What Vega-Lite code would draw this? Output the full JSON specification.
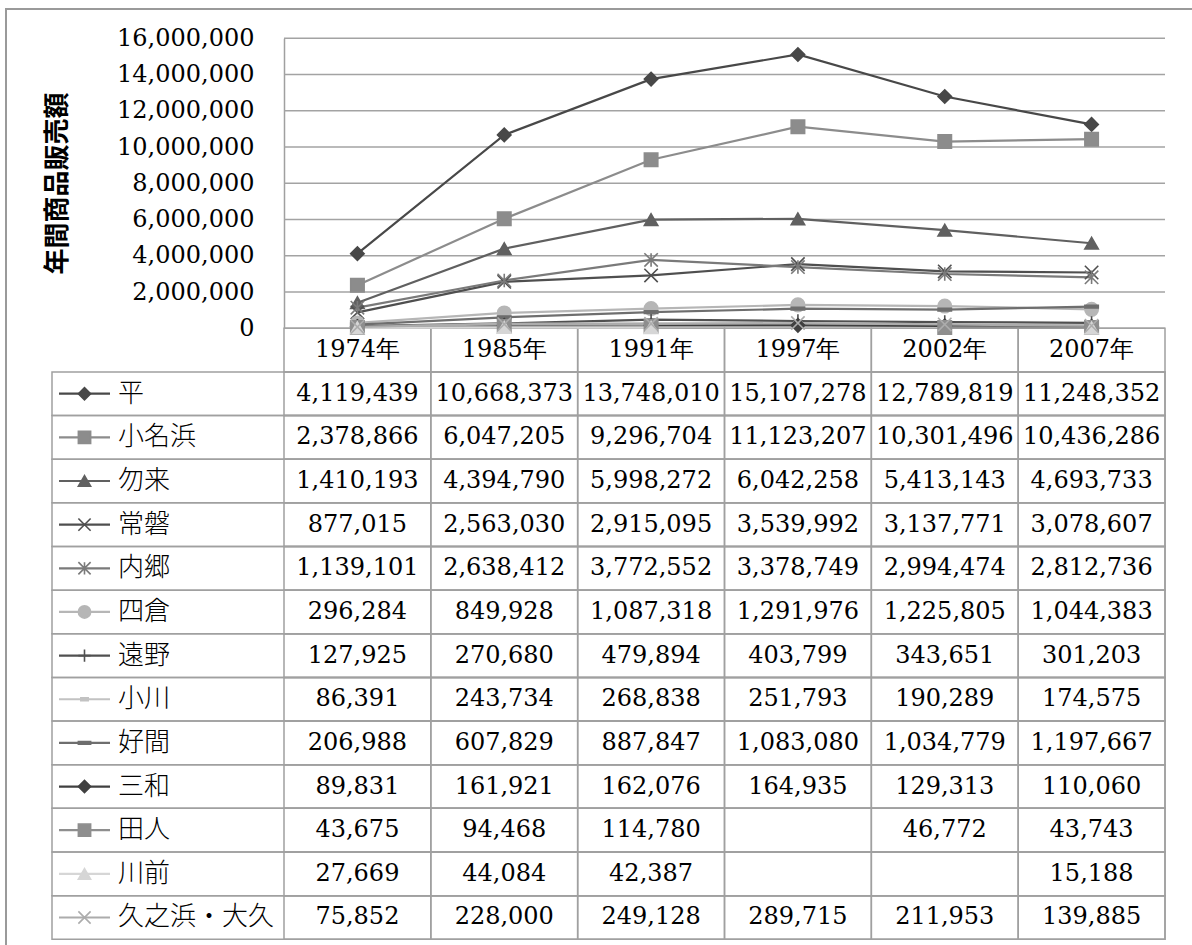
{
  "$schema": "https://vega.github.io/schema/vega-lite/v6.json",
  "width": 1194,
  "height": 946,
  "padding": {"left": 6, "top": 9, "right": -8, "bottom": -10},
  "autosize": {"type": "none"},
  "background": "white",
  "config": {"view": {"stroke": "#9a9a9a", "strokeWidth": 2}},
  "datasets": {
    "wide": [
      {"area": "平", "1974年": 4119439, "1985年": 10668373, "1991年": 13748010, "1997年": 15107278, "2002年": 12789819, "2007年": 11248352},
      {"area": "小名浜", "1974年": 2378866, "1985年": 6047205, "1991年": 9296704, "1997年": 11123207, "2002年": 10301496, "2007年": 10436286},
      {"area": "勿来", "1974年": 1410193, "1985年": 4394790, "1991年": 5998272, "1997年": 6042258, "2002年": 5413143, "2007年": 4693733},
      {"area": "常磐", "1974年": 877015, "1985年": 2563030, "1991年": 2915095, "1997年": 3539992, "2002年": 3137771, "2007年": 3078607},
      {"area": "内郷", "1974年": 1139101, "1985年": 2638412, "1991年": 3772552, "1997年": 3378749, "2002年": 2994474, "2007年": 2812736},
      {"area": "四倉", "1974年": 296284, "1985年": 849928, "1991年": 1087318, "1997年": 1291976, "2002年": 1225805, "2007年": 1044383},
      {"area": "遠野", "1974年": 127925, "1985年": 270680, "1991年": 479894, "1997年": 403799, "2002年": 343651, "2007年": 301203},
      {"area": "小川", "1974年": 86391, "1985年": 243734, "1991年": 268838, "1997年": 251793, "2002年": 190289, "2007年": 174575},
      {"area": "好間", "1974年": 206988, "1985年": 607829, "1991年": 887847, "1997年": 1083080, "2002年": 1034779, "2007年": 1197667},
      {"area": "三和", "1974年": 89831, "1985年": 161921, "1991年": 162076, "1997年": 164935, "2002年": 129313, "2007年": 110060},
      {"area": "田人", "1974年": 43675, "1985年": 94468, "1991年": 114780, "1997年": null, "2002年": 46772, "2007年": 43743},
      {"area": "川前", "1974年": 27669, "1985年": 44084, "1991年": 42387, "1997年": null, "2002年": null, "2007年": 15188},
      {"area": "久之浜・大久", "1974年": 75852, "1985年": 228000, "1991年": 249128, "1997年": 289715, "2002年": 211953, "2007年": 139885}
    ],
    "years": [
      {"year": "1974年"}, {"year": "1985年"}, {"year": "1991年"},
      {"year": "1997年"}, {"year": "2002年"}, {"year": "2007年"}
    ],
    "ticks": [
      {"value": 0}, {"value": 2000000}, {"value": 4000000}, {"value": 6000000},
      {"value": 8000000}, {"value": 10000000}, {"value": 12000000},
      {"value": 14000000}, {"value": 16000000}
    ]
  },
  "layer": [
    {
      "layer": [
        {
          "data": {"name": "wide"},
          "transform": [{"fold": ["1974年", "1985年", "1991年", "1997年", "2002年", "2007年"], "as": ["year", "value"]}],
          "mark": {"type": "rect", "fill": "transparent", "stroke": "#a0a0a0", "strokeWidth": 1.5},
          "encoding": {
            "y": {"field": "area", "type": "nominal", "axis": null,
              "scale": {"type": "band", "domain": ["年次", "平", "小名浜", "勿来", "常磐", "内郷", "四倉", "遠野", "小川", "好間", "三和", "田人", "川前", "久之浜・大久"], "range": [319.3, 930.3], "paddingInner": 0, "paddingOuter": 0}}
          }
        },
        {
          "data": {"name": "years"},
          "mark": {"type": "rect", "fill": "transparent", "stroke": "#a0a0a0", "strokeWidth": 1.5},
          "encoding": {"y": {"datum": "年次", "type": "nominal"}}
        },
        {
          "data": {"name": "years"},
          "mark": {"type": "text", "font": "DejaVu Serif", "fontSize": 24, "color": "#000000", "align": "center", "baseline": "middle"},
          "encoding": {
            "y": {"datum": "年次", "type": "nominal"},
            "text": {"field": "year", "type": "nominal"}
          }
        },
        {
          "data": {"name": "wide"},
          "transform": [
            {"fold": ["1974年", "1985年", "1991年", "1997年", "2002年", "2007年"], "as": ["year", "value"]},
            {"filter": "isValid(datum.value)"}
          ],
          "mark": {"type": "text", "font": "DejaVu Serif", "fontSize": 24, "color": "#000000", "align": "center", "baseline": "middle"},
          "encoding": {
            "y": {"field": "area", "type": "nominal"},
            "text": {"field": "value", "type": "quantitative", "format": ","}
          }
        }
      ],
      "encoding": {
        "x": {"field": "year", "type": "nominal", "axis": null,
          "scale": {"type": "band", "domain": ["1974年", "1985年", "1991年", "1997年", "2002年", "2007年"], "range": [278, 1159], "paddingInner": 0, "paddingOuter": 0}}
      }
    },
    {
      "data": {"name": "wide"},
      "mark": {"type": "rect", "fill": "transparent", "stroke": "#a0a0a0", "strokeWidth": 1.5},
      "encoding": {
        "x": {"datum": "表", "type": "nominal", "axis": null,
          "scale": {"type": "band", "domain": ["表"], "range": [46, 1159], "paddingInner": 0, "paddingOuter": 0}},
        "y": {"field": "area", "type": "nominal", "axis": null,
          "scale": {"type": "band", "domain": ["平", "小名浜", "勿来", "常磐", "内郷", "四倉", "遠野", "小川", "好間", "三和", "田人", "川前", "久之浜・大久"], "range": [362.9, 930.3], "paddingInner": 0, "paddingOuter": 0}}
      }
    },
    {
      "layer": [
        {
          "data": {"name": "ticks"},
          "mark": {"type": "rule", "stroke": "#a3a3a3", "strokeWidth": 1.5},
          "encoding": {
            "x": {"datum": "1974年", "type": "nominal", "bandPosition": 0},
            "x2": {"datum": "2007年", "bandPosition": 1}
          }
        },
        {
          "data": {"name": "wide"},
          "transform": [{"fold": ["1974年", "1985年", "1991年", "1997年", "2002年", "2007年"], "as": ["year", "value"]}],
          "mark": {"type": "line", "strokeWidth": 2.2, "invalid": "break-paths-show-domains"},
          "encoding": {
            "x": {"field": "year", "type": "nominal"},
            "color": {"field": "area", "type": "nominal", "legend": null,
              "scale": {"domain": ["平", "小名浜", "勿来", "常磐", "内郷", "四倉", "遠野", "小川", "好間", "三和", "田人", "川前", "久之浜・大久"],
                "range": ["#484848", "#8c8c8c", "#606060", "#4f4f4f", "#7a7a7a", "#b6b6b6", "#505050", "#c2c2c2", "#6e6e6e", "#404040", "#8e8e8e", "#d6d6d6", "#acacac"]}}
          }
        },
        {
          "data": {"name": "wide"},
          "transform": [
            {"fold": ["1974年", "1985年", "1991年", "1997年", "2002年", "2007年"], "as": ["year", "value"]},
            {"filter": "isValid(datum.value)"}
          ],
          "mark": {"type": "point", "filled": true, "opacity": 1, "size": 180, "strokeWidth": 1.6},
          "encoding": {
            "x": {"field": "year", "type": "nominal"},
            "color": {"field": "area", "type": "nominal", "legend": null},
            "stroke": {"field": "area", "type": "nominal", "legend": null,
              "scale": {"domain": ["平", "小名浜", "勿来", "常磐", "内郷", "四倉", "遠野", "小川", "好間", "三和", "田人", "川前", "久之浜・大久"],
                "range": ["#484848", "#8c8c8c", "#606060", "#4f4f4f", "#7a7a7a", "#b6b6b6", "#505050", "#c2c2c2", "#6e6e6e", "#404040", "#8e8e8e", "#d6d6d6", "#acacac"]}},
            "shape": {"field": "area", "type": "nominal", "legend": null,
              "scale": {"domain": ["平", "小名浜", "勿来", "常磐", "内郷", "四倉", "遠野", "小川", "好間", "三和", "田人", "川前", "久之浜・大久"],
                "range": ["diamond", "square", "triangle-up", "M-1,-1L1,1M-1,1L1,-1", "M-1,-1L1,1M-1,1L1,-1M0,-1L0,1", "circle", "M-1,0L1,0M0,-1L0,1", "M-0.6,-0.22L0.6,-0.22L0.6,0.22L-0.6,0.22Z", "M-1,-0.2L1,-0.2L1,0.2L-1,0.2Z", "diamond", "square", "triangle-up", "M-1,-1L1,1M-1,1L1,-1"]}}
          }
        }
      ],
      "encoding": {
        "x": {"type": "nominal", "axis": null,
          "scale": {"type": "band", "domain": ["1974年", "1985年", "1991年", "1997年", "2002年", "2007年"], "range": [278, 1159], "paddingInner": 0, "paddingOuter": 0}},
        "y": {"field": "value", "type": "quantitative",
          "scale": {"type": "linear", "domain": [0, 16000000], "range": [319.3, 29.3], "nice": false, "zero": true},
          "axis": {
            "orient": "left", "offset": -278, "title": "年間商品販売額",
            "values": [0, 2000000, 4000000, 6000000, 8000000, 10000000, 12000000, 14000000, 16000000],
            "labelExpr": "format(datum.value, ',')", "grid": false, "ticks": false, "tickSize": 0, "labelPadding": 30,
            "labelFont": "DejaVu Serif", "labelFontSize": 24, "labelColor": "#000000",
            "labelFlush": false, "labelOverlap": false, "labelBound": false,
            "domainColor": "#a0a0a0", "domainWidth": 1.5,
            "titleFont": "Noto Sans CJK JP", "titleFontSize": 26, "titleFontWeight": "bold", "titleColor": "#000000",
            "titleAngle": -90, "titleX": -227, "titleY": 174, "titleAlign": "center", "titleBaseline": "middle"
          }
        }
      }
    },
    {
      "data": {"name": "wide"},
      "layer": [
        {
          "mark": {"type": "rule", "strokeWidth": 2.2},
          "encoding": {
            "x": {"datum": "key", "type": "nominal", "bandPosition": 0},
            "x2": {"datum": "key", "bandPosition": 1},
            "color": {"field": "area", "type": "nominal", "legend": null}
          }
        },
        {
          "mark": {"type": "point", "filled": true, "opacity": 1, "size": 150, "strokeWidth": 1.6},
          "encoding": {
            "x": {"datum": "key", "type": "nominal"},
            "color": {"field": "area", "type": "nominal", "legend": null},
            "stroke": {"field": "area", "type": "nominal", "legend": null},
            "shape": {"field": "area", "type": "nominal", "legend": null}
          }
        },
        {
          "mark": {"type": "text", "font": "Noto Sans CJK JP", "fontSize": 26, "fontWeight": 300, "color": "#000000", "align": "left", "baseline": "middle"},
          "encoding": {
            "x": {"datum": "name", "type": "nominal", "bandPosition": 0},
            "text": {"field": "area", "type": "nominal"}
          }
        }
      ],
      "encoding": {
        "x": {"type": "nominal", "axis": null,
          "scale": {"type": "band", "domain": ["key", "name"], "range": [53, 163], "paddingInner": 0.1356, "paddingOuter": 0}},
        "y": {"field": "area", "type": "nominal", "axis": null,
          "scale": {"type": "band", "domain": ["平", "小名浜", "勿来", "常磐", "内郷", "四倉", "遠野", "小川", "好間", "三和", "田人", "川前", "久之浜・大久"], "range": [362.9, 930.3], "paddingInner": 0, "paddingOuter": 0}}
      }
    }
  ],
  "resolve": {"scale": {"x": "independent", "y": "independent"}}
}
